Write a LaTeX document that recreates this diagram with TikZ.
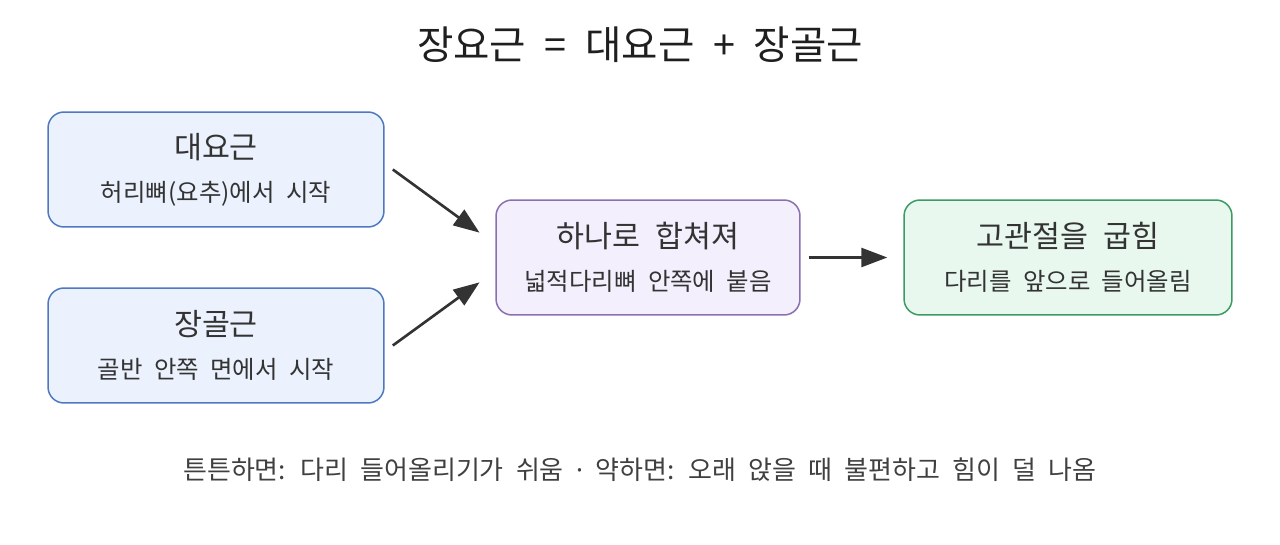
\documentclass[tikz,border=0pt]{standalone}
\usepackage{fontspec}
\setmainfont[WordSpace=2.1]{Noto Sans CJK KR}
\newfontfamily\latinfont[WordSpace=2.1]{Noto Sans}
\usetikzlibrary{arrows.meta}

\definecolor{bluefill}{HTML}{EBF2FD}
\definecolor{blueline}{HTML}{4F78BE}
\definecolor{purpfill}{HTML}{F4EFFD}
\definecolor{purpline}{HTML}{8A6FB3}
\definecolor{greenfill}{HTML}{E8F8EE}
\definecolor{greenline}{HTML}{3C9A62}
\definecolor{ink}{HTML}{333333}

\newcommand{\twolines}[2]{{\fontsize{17.3}{24.4}\selectfont #1}\\#2}

\begin{document}
\begin{tikzpicture}[x=0.02cm, y=-0.02cm,
  musc/.style={draw, line width=0.85pt, rounded corners=0.32cm, align=center,
    minimum height=2.3cm, inner sep=0pt, text=ink,
    font=\fontsize{13.9}{24.4}\selectfont},
  bluebox/.style={musc, fill=bluefill, draw=blueline, minimum width=6.72cm},
  purpbox/.style={musc, fill=purpfill, draw=purpline, minimum width=6.08cm},
  greenbox/.style={musc, fill=greenfill, draw=greenline, minimum width=6.56cm},
  link/.style={draw=ink, line width=1.5pt, -{Triangle[length=0.52cm,width=0.38cm]}}]

\useasboundingbox (0,0) rectangle (1280,544);

\node[text=black!88, font=\fontsize{22.5}{27}\selectfont] (title) at (640,45) {장요근 = 대요근 + 장골근};

\node[bluebox] (dae) at (216,169.5) {\twolines{대요근}{허리뼈(요추)에서 시작}};
\node[bluebox] (jang) at (216,345.5) {\twolines{장골근}{골반 안쪽 면에서 시작}};
\node[purpbox] (hab) at (648,257.5) {\twolines{하나로 합쳐져}{넓적다리뼈 안쪽에 붙음}};
\node[greenbox] (gwan) at (1068,257.5) {\twolines{고관절을 굽힘}{다리를 앞으로 들어올림}};

\draw[link, shorten <=0.2cm, shorten >=0.39cm] (dae.2) -- (hab.175);
\draw[link, shorten <=0.2cm, shorten >=0.39cm] (jang.358) -- (hab.185);
\draw[link, shorten <=0.16cm, shorten >=0.32cm] (hab.east) -- (gwan.west);

\node[text=black!75, font=\fontsize{14.8}{18}\selectfont] (note) at (640,470) {튼튼하면: 다리 들어올리기가 쉬움 {\latinfont ·} 약하면: 오래 앉을 때 불편하고 힘이 덜 나옴};

\end{tikzpicture}
\end{document}
